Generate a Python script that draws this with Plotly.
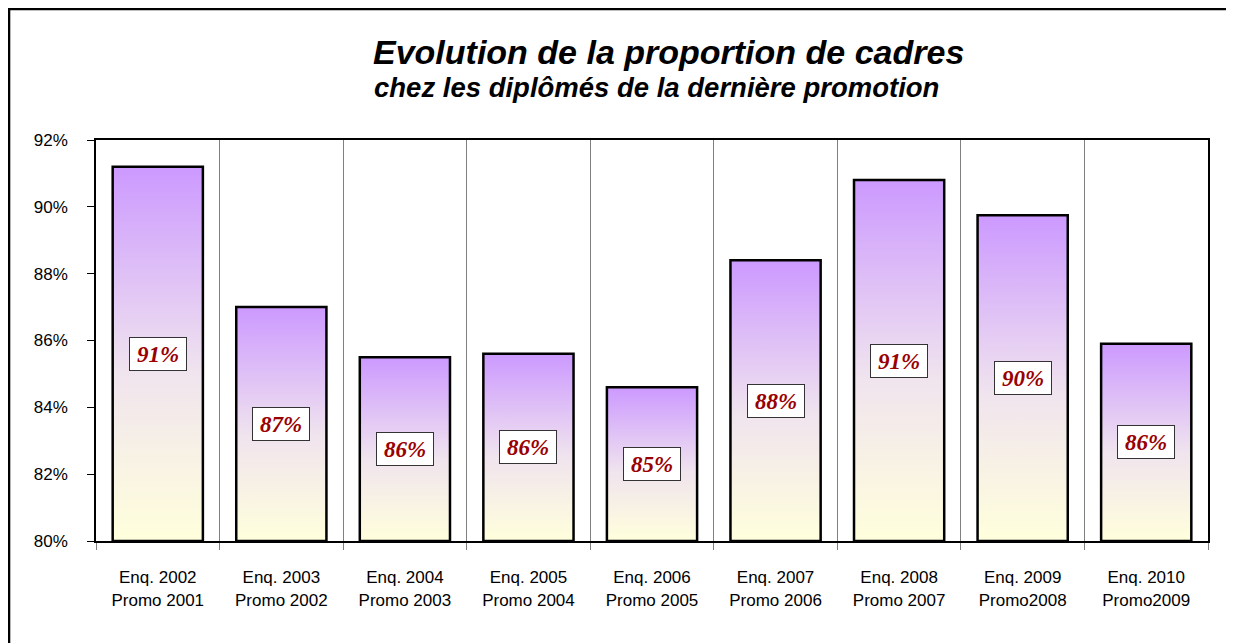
import plotly.graph_objects as go

categories = ["Enq. 2002<br>Promo 2001", "Enq. 2003<br>Promo 2002", "Enq. 2004<br>Promo 2003",
              "Enq. 2005<br>Promo 2004", "Enq. 2006<br>Promo 2005", "Enq. 2007<br>Promo 2006",
              "Enq. 2008<br>Promo 2007", "Enq. 2009<br>Promo2008", "Enq. 2010<br>Promo2009"]
values = [91.2, 87.0, 85.5, 85.6, 84.6, 88.4, 90.8, 89.75, 85.9]
y_ticks = [80, 82, 84, 86, 88, 90, 92]
base = 80
bar_width = 0.73

fig = go.Figure()
for i, v in enumerate(values):
    x0, x1 = i - bar_width / 2, i + bar_width / 2
    fig.add_trace(go.Scatter(
        x=[x0, x0, x1, x1, x0], y=[base, v, v, base, base],
        mode="lines", fill="toself",
        fillgradient=dict(type="vertical",
                          colorscale=[[0, "#ffffdc"], [0.45, "#f0e4ee"], [1, "#cc99ff"]]),
        line=dict(color="black", width=2.5),
        hoverinfo="skip", showlegend=False))
    fig.add_annotation(
        x=i, y=(base + v) / 2, text=f"{int(v + 0.5)}%", showarrow=False,
        font=dict(family="Liberation Serif", size=23, color="#990000", weight="bold", style="italic"),
        bgcolor="white", bordercolor="#333333", borderwidth=1, borderpad=2,
        width=52, height=28)

fig.add_annotation(xref="paper", yref="paper", x=0.515, y=1.2195, showarrow=False,
                   xanchor="center", yanchor="middle",
                   text="<b><i>Evolution de la proportion de cadres</i></b>",
                   font=dict(family="Liberation Sans", size=34, color="black"))
fig.add_annotation(xref="paper", yref="paper", x=0.5036, y=1.13, showarrow=False,
                   xanchor="center", yanchor="middle",
                   text="<b><i>chez les diplômés de la dernière promotion</i></b>",
                   font=dict(family="Liberation Sans", size=27.5, color="black"))

fig.add_shape(type="rect", xref="paper", yref="paper",
              x0=-0.0782, x1=1.1, y0=-0.4, y1=1.3267,
              line=dict(color="black", width=2.5), fillcolor="rgba(0,0,0,0)")

fig.update_xaxes(
    range=[-0.5, len(values) - 0.5], tickmode="array",
    tickvals=list(range(len(values))), ticktext=categories,
    ticks="", showgrid=False, zeroline=False,
    showline=True, linecolor="black", linewidth=2, mirror=True,
    tickfont=dict(family="Liberation Sans", size=17, color="black"),
    ticklabelstandoff=20,
    minor=dict(tickmode="linear", tick0=-0.5, dtick=1, showgrid=True,
               gridcolor="#808080", gridwidth=1, ticks="outside", ticklen=7,
               tickcolor="#808080"))
fig.update_yaxes(
    range=[80, 92], tickmode="array", tickvals=y_ticks,
    ticktext=[f"{t}%" for t in y_ticks], ticks="outside", ticklen=7, tickcolor="black",
    showgrid=False, zeroline=False,
    showline=True, linecolor="black", linewidth=1.5, mirror=True,
    tickfont=dict(family="Liberation Sans", size=17, color="black"),
    ticklabelstandoff=16)

fig.update_layout(
    width=1234, height=643,
    margin=dict(l=88, r=34, t=132, b=110),
    plot_bgcolor="white", paper_bgcolor="white",
    showlegend=False)

fig.write_html("out.html")
